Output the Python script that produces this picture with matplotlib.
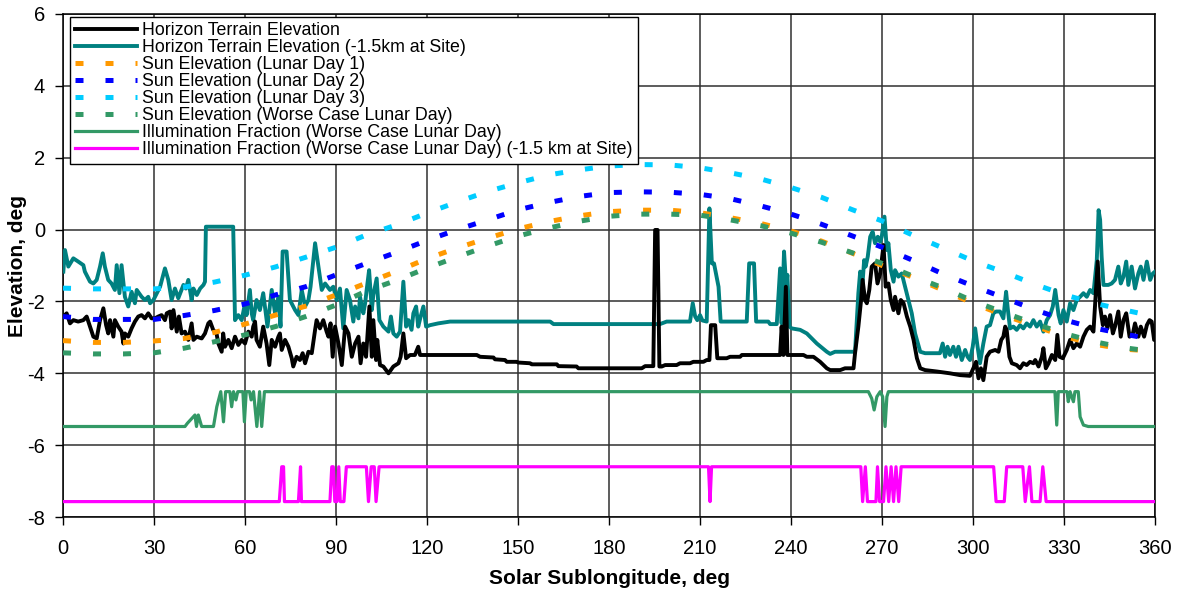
import matplotlib
matplotlib.use("Agg")
import matplotlib.pyplot as plt
import numpy as np

plt.rcParams['font.family'] = ['Liberation Sans', 'DejaVu Sans']
plt.rcParams['axes.unicode_minus'] = False

# sun elevation, read every 10 deg
sun_lon = [0, 10, 20, 30, 40, 50, 60, 70, 80, 90, 100, 110, 120, 130, 140, 150, 160, 170, 180,
           190, 200, 210, 220, 230, 240, 250, 260, 270, 280, 290, 300, 310, 320, 330, 340, 350, 360]
sun_day1 = [-3.09, -3.14, -3.14, -3.10, -3.03, -2.86, -2.63, -2.38, -2.13, -1.82, -1.49, -1.16, -0.81,
            -0.51, -0.24, 0.02, 0.22, 0.38, 0.50, 0.54, 0.54, 0.47, 0.33, 0.17, -0.04, -0.32, -0.65,
            -1.00, -1.32, -1.68, -2.05, -2.38, -2.67, -2.97, -3.19, -3.33, -3.38]
sun_day2 = [-2.42, -2.50, -2.50, -2.50, -2.39, -2.25, -2.07, -1.82, -1.59, -1.26, -0.94, -0.63, -0.30,
            0.00, 0.27, 0.55, 0.75, 0.92, 1.03, 1.05, 1.04, 0.98, 0.86, 0.66, 0.43, 0.15, -0.17,
            -0.49, -0.85, -1.23, -1.57, -1.89, -2.22, -2.51, -2.74, -2.91, -3.07]
sun_day3 = [-1.63, -1.65, -1.65, -1.65, -1.60, -1.46, -1.27, -1.04, -0.77, -0.49, -0.15, 0.13, 0.46,
            0.77, 1.06, 1.30, 1.52, 1.66, 1.77, 1.81, 1.80, 1.72, 1.58, 1.41, 1.17, 0.90, 0.56,
            0.24, -0.15, -0.51, -0.87, -1.18, -1.51, -1.81, -2.05, -2.24, -2.42]
sun_worst = [-3.43, -3.46, -3.46, -3.43, -3.30, -3.12, -2.93, -2.70, -2.42, -2.10, -1.71, -1.41, -1.07,
             -0.76, -0.46, -0.18, 0.04, 0.23, 0.37, 0.43, 0.43, 0.40, 0.27, 0.11, -0.10, -0.35, -0.64,
             -0.94, -1.29, -1.62, -1.99, -2.30, -2.61, -2.89, -3.12, -3.29, -3.40]

# horizon terrain elevation
hor_lon = [0.1, 1.2, 2.3, 3.4, 5.0, 6.7, 7.8, 8.9, 10.0, 11.1, 12.2, 13.3, 14.2, 14.9, 15.5, 16.6, 17.1,
           18.2, 19.3, 19.9, 20.4, 21.5, 22.6, 23.7, 24.8, 25.9, 27.0, 28.1, 29.2, 30.3, 31.4, 32.5,
           33.6, 34.2, 35.3, 35.8, 36.4, 37.5, 38.2, 39.1, 40.2, 41.3, 42.4, 43.0, 44.1, 45.7, 46.8,
           47.9, 48.5, 49.5, 50.6, 51.2, 52.3, 52.8, 53.4, 54.5, 55.6, 56.7, 57.8, 58.9, 60.0, 61.1,
           62.2, 62.7, 63.3, 63.8, 64.9, 66.0, 67.1, 68.0, 68.8, 69.9, 71.0, 71.5, 72.1, 73.2, 74.3,
           75.4, 75.9, 77.0, 78.1, 79.0, 79.8, 80.9, 82.0, 83.1, 83.6, 84.7, 85.8, 86.9, 87.5, 88.2,
           88.9, 89.7, 90.8, 91.9, 93.0, 94.1, 95.2, 96.3, 97.4, 98.1, 99.0, 99.9, 101.0, 101.8,
           102.3, 103.2, 103.6, 104.5, 105.6, 107.3, 108.9, 110.6, 111.3, 112.2, 113.1, 114.4,
           116.0, 117.1, 117.7, 121.0, 136.4, 137.5, 141.9, 142.4, 145.7, 146.3, 149.6, 150.1,
           154.0, 154.5, 162.8, 163.3, 169.3, 169.9, 190.8, 191.9, 194.6, 195.2, 196.0, 196.6,
           197.4, 198.5, 202.3, 203.4, 206.7, 207.8, 211.1, 212.2, 213.1, 213.6, 215.0, 215.7,
           218.8, 219.9, 223.2, 223.8, 236.4, 236.9, 237.5, 238.3, 238.8, 244.1, 245.2, 247.4,
           249.6, 251.8, 252.9, 256.2, 257.8, 260.6, 261.1, 262.2, 263.1, 263.6, 264.4, 265.0,
           265.8, 266.6, 267.7, 268.5, 269.4, 270.5, 271.2, 272.1, 272.9, 273.8, 274.3, 275.4,
           276.2, 277.1, 278.2, 279.3, 280.4, 281.5, 282.6, 284.2, 288.1, 292.4, 295.7, 299.0,
           300.1, 301.0, 301.8, 302.6, 303.4, 304.5, 305.6, 307.3, 308.4, 309.3, 310.0, 310.6,
           311.1, 312.0, 312.8, 314.4, 315.5, 316.6, 317.7, 318.8, 319.9, 320.5, 321.6, 322.7,
           323.2, 324.0, 324.9, 326.0, 327.1, 327.8, 328.5, 329.6, 330.9, 332.0, 333.1, 334.2,
           335.3, 336.4, 337.5, 338.6, 339.7, 340.2, 341.1, 341.9, 342.8, 343.5, 344.3, 345.2,
           346.1, 346.8, 347.9, 348.7, 349.6, 350.5, 351.6, 352.7, 353.4, 354.5, 355.3, 356.4,
           357.3, 358.2, 358.9, 359.7, 360.0]
hor_elev = [-2.42, -2.33, -2.61, -2.52, -2.56, -2.52, -2.42, -2.70, -2.98, -3.03, -2.52, -2.19, -2.66,
            -2.89, -2.52, -2.98, -2.52, -2.70, -2.84, -3.17, -2.89, -2.98, -2.75, -2.56, -2.42,
            -2.38, -2.47, -2.33, -2.47, -2.47, -2.42, -2.38, -2.52, -2.33, -2.28, -2.75, -2.24,
            -2.84, -2.42, -2.89, -2.84, -3.07, -2.61, -3.07, -2.98, -3.03, -2.89, -2.61, -2.56,
            -2.79, -2.89, -3.17, -3.40, -2.89, -3.26, -3.07, -3.30, -2.98, -3.21, -3.07, -3.17,
            -2.84, -2.98, -2.70, -2.56, -3.07, -3.26, -2.70, -3.17, -3.77, -3.07, -3.26, -2.98,
            -2.89, -3.35, -3.07, -3.26, -3.58, -3.81, -3.54, -3.63, -3.44, -3.72, -3.40, -3.44,
            -2.79, -2.52, -2.75, -2.52, -2.84, -2.98, -2.61,
            -3.54, -2.70, -3.17, -3.77, -2.70, -2.89, -3.54, -3.17, -2.98, -3.72, -3.17, -3.54,
            -2.14, -3.54, -2.52, -3.63, -3.07, -3.77, -3.81, -4.00, -3.81, -3.72, -3.54, -2.89,
            -3.58, -3.49, -3.49, -3.26, -3.49, -3.49, -3.49, -3.54, -3.56, -3.61, -3.63, -3.68,
            -3.68, -3.70, -3.72, -3.75, -3.75, -3.80, -3.81, -3.86, -3.86, -3.80, -3.80, -0.01,
            -0.01, -3.81, -3.81, -3.77, -3.77, -3.72, -3.72, -3.68, -3.68, -3.63, -3.63, -2.66,
            -2.66, -3.58, -3.58, -3.54, -3.54, -3.49, -3.49, -2.70, -3.49, -1.59, -3.49, -3.49,
            -3.54, -3.54, -3.68, -3.86, -3.91, -3.91, -3.86, -3.86, -3.44, -2.70, -1.96, -1.40,
            -1.96, -2.05, -1.68, -1.03, -0.94, -1.50, -1.22, -0.43, -1.59, -1.50, -1.96, -2.24,
            -1.87, -2.33, -1.96, -2.05, -2.42, -2.70, -3.07, -3.58, -3.86, -3.91, -3.95, -4.00,
            -4.05, -4.07, -3.86, -3.68, -4.14, -3.86, -4.19, -3.54, -3.40, -3.35, -3.40, -3.07,
            -2.98, -2.70, -2.79, -3.54, -3.72, -3.77, -3.86, -3.72, -3.77, -3.68, -3.72, -3.63,
            -3.81, -3.54, -3.30, -3.86, -3.72, -3.49, -3.63, -2.93, -3.54, -3.58, -3.35, -3.07,
            -3.30, -3.17, -3.26, -2.98, -2.79, -2.70, -2.84, -2.14, -0.89, -2.14, -2.66, -2.42,
            -2.75, -2.38, -2.89, -2.70, -2.28, -2.98, -2.52, -2.33, -2.98, -2.89, -2.61, -2.98,
            -2.70, -2.98, -2.66, -2.52, -2.56, -3.07, -3.07]

# horizon terrain elevation, -1.5 km at site
low_lon = [0.1, 0.65, 1.75, 3.4, 5.0, 6.7, 7.2, 8.9, 10.0, 11.1, 12.2, 13.1, 13.8, 14.9, 16.0, 17.1,
           17.7, 18.6, 19.3, 20.4, 21.5, 22.6, 23.7, 24.3, 25.9, 27.0, 28.1, 28.7, 29.8, 32.0, 33.6,
           34.7, 35.8, 36.9, 38.0, 39.7, 40.5, 41.3, 42.4, 43.0, 44.1, 45.2, 46.3, 46.8, 47.1, 56.1,
           56.7, 57.8, 58.9, 60.0, 60.5, 61.6, 62.2, 62.7, 63.8, 64.9, 66.0, 67.4, 68.8, 69.9, 71.0,
           71.7, 72.4, 73.7, 74.8, 76.5, 77.6, 78.7, 79.8, 80.9, 81.6, 83.1, 84.2, 85.3, 86.4, 88.0,
           89.1, 90.2, 91.3, 92.4, 93.5, 94.6, 95.7, 96.3, 97.4, 97.9, 99.0, 99.6, 100.1, 100.9,
           101.8, 102.3, 103.4, 104.3, 105.6, 107.3, 108.1, 108.9, 110.0, 111.1, 112.2, 113.1,
           113.9, 114.9, 115.5, 116.4, 117.1, 117.9, 118.8, 119.7, 121.0, 123.7, 127.6, 160.6,
           161.7, 196.8, 199.0, 206.7, 207.6, 208.4, 209.1, 210.0, 210.8, 212.2, 213.1, 213.9,
           214.6, 216.1, 216.8, 225.4, 226.2, 227.8, 228.5, 232.5, 233.1, 235.3, 236.4, 236.9,
           237.7, 238.4, 238.8, 239.5, 240.2, 243.0, 245.2, 248.5, 251.8, 252.9, 254.5, 261.1,
           262.2, 262.8, 263.5, 264.1, 264.6, 265.3, 266.1, 266.9, 267.7, 268.6, 269.4, 269.9,
           270.8, 271.6, 272.1, 272.9, 273.8, 274.3, 275.4, 276.5, 277.6, 278.7, 279.8, 280.9,
           282.6, 284.2, 289.1, 290.0, 290.8, 291.6, 292.4, 293.5, 294.4, 295.2, 296.3, 297.4,
           298.2, 299.0, 299.9, 300.7, 301.5, 302.3, 303.4, 304.5, 305.6, 306.7, 307.6, 308.9,
           310.0, 310.9, 311.5, 312.2, 313.3, 314.4, 315.5, 316.6, 317.7, 318.8, 319.9, 321.0,
           322.1, 323.2, 324.3, 325.4, 326.3, 327.1, 328.2, 328.9, 329.8, 330.9, 332.0, 333.1,
           334.2, 335.3, 336.4, 337.5, 338.6, 339.7, 340.8, 341.4, 341.9, 342.4, 343.0, 344.6,
           345.7, 346.8, 347.9, 348.7, 349.6, 350.5, 351.2, 352.3, 353.4, 354.5, 355.3, 356.2,
           357.3, 358.4, 359.3, 360.0]
low_elev = [-1.17, -0.57, -1.03, -0.80, -0.89, -0.99, -1.17, -1.45, -1.50, -1.40, -1.03, -0.66, -1.03,
            -1.40, -1.50, -1.68, -0.99, -1.77, -0.99, -1.87, -2.14, -1.73, -2.05, -1.68, -1.87,
            -1.96, -1.87, -2.05, -1.96, -1.59, -1.08, -1.40, -1.96, -1.64, -1.91, -1.54, -1.64,
            -1.40, -1.96, -1.64, -1.82, -1.64, -1.54, -1.45, 0.08, 0.08, -2.52, -2.38, -2.52,
            -2.05, -2.38, -1.68, -2.33, -2.52, -1.96, -2.24, -1.77, -2.70, -1.68, -2.33, -1.87,
            -2.70, -0.61, -0.61, -1.96, -2.24, -2.38, -1.68, -2.14, -1.96, -1.59, -0.38, -1.03,
            -1.68, -1.50, -1.68, -1.59, -1.96, -1.64, -2.75, -1.68, -1.96, -2.56, -2.14, -2.47,
            -1.87, -2.33, -2.05, -1.68, -1.13, -2.24, -1.82, -1.36, -2.52, -2.70, -2.84, -2.42,
            -2.89, -2.98, -2.84, -1.45, -2.70, -2.52, -2.79, -2.33, -2.14, -2.70, -2.42, -2.14,
            -2.70, -2.66, -2.61, -2.56, -2.56, -2.63, -2.63, -2.56, -2.56, -2.05, -2.42, -2.52,
            -2.38, -2.53, -2.56, 0.59, -0.94, -0.94, -1.59, -2.56, -2.56, -0.94, -0.94, -2.56,
            -2.56, -2.63, -2.63, -1.08, -2.61, -0.61, -1.59, -1.26, -2.70, -2.75, -2.79, -2.89,
            -3.17, -3.40, -3.46, -3.40, -3.40, -1.77, -1.17, -1.59, -0.85, -1.03, -0.75, -0.20,
            -0.06, -0.38, -0.20, -0.34, -0.20, 0.36, -0.57, -0.38, -1.13, -1.45, -1.13, -1.31,
            -1.22, -1.59, -1.96, -2.33, -2.89, -3.40, -3.44, -3.44, -3.17, -3.54, -3.26, -3.49,
            -3.26, -3.54, -3.26, -3.63, -3.35, -3.54, -3.63, -3.26, -2.75, -3.26, -3.72, -3.17,
            -2.70, -2.66, -2.33, -2.28, -2.28, -2.47, -1.73, -2.24, -2.75, -2.70, -2.79, -2.66,
            -2.75, -2.61, -2.70, -2.52, -2.70, -2.56, -2.84, -2.52, -2.38, -2.14, -1.68, -2.38,
            -2.61, -2.24, -2.56, -2.05, -2.24, -1.96, -1.87, -1.77, -1.87, -1.68, -1.77, -0.85,
            0.54, 0.27, -0.75, -1.54, -1.54, -1.50, -1.40, -1.03, -1.50, -1.31, -0.89, -1.54,
            -1.03, -1.64, -1.22, -1.03, -1.40, -0.89, -1.40, -1.22, -1.17]

# illumination fraction, worse case lunar day (plotted on the elevation axis)
illum_lon = [0, 40.2, 41.0, 43.5, 44.0, 44.6, 45.7, 49.6, 50.7, 52.0, 52.9, 53.6, 55.0, 55.6, 56.2,
             57.0, 57.6, 59.3, 59.8, 60.4, 61.5, 62.0, 62.8, 63.9, 64.8, 65.5, 66.4, 265.5, 266.6,
             267.4, 268.3, 269.4, 270.2, 271.0, 271.6, 272.1, 327.0, 327.6, 328.1, 331.0, 331.4,
             332.0, 333.1, 333.6, 334.7, 335.3, 336.4, 338.0, 360]
illum_val = [-5.48, -5.48, -5.39, -5.16, -5.48, -5.16, -5.48, -5.48, -4.93, -4.51, -5.35, -4.51, -4.51,
             -4.93, -4.51, -4.74, -4.51, -4.51, -5.35, -4.51, -4.51, -4.74, -4.51, -5.48, -4.51,
             -5.48, -4.51, -4.51, -4.70, -5.02, -4.65, -4.51, -4.65, -5.48, -4.65, -4.51, -4.51,
             -5.44, -4.51, -4.51, -4.79, -4.51, -4.79, -4.51, -4.51, -5.21, -5.44, -5.48, -5.48]

# illumination fraction, -1.5 km at site
illum_low_lon = [0, 71.3, 72.1, 72.7, 73.0, 77.6, 78.3, 78.6, 88.0, 88.6, 89.1, 89.6, 90.3, 90.9,
                 91.4, 92.6, 93.4, 100.0, 100.7, 101.6, 102.6, 103.2, 104.2, 212.8, 213.3, 213.8,
                 263.0, 263.6, 264.5, 265.2, 268.0, 268.5, 269.2, 270.5, 271.3, 272.2, 273.0, 273.8,
                 274.6, 275.5, 276.3, 306.8, 307.6, 310.3, 311.1, 316.4, 317.2, 318.6, 319.4, 322.1,
                 323.0, 324.1, 360]
illum_low_val = [-7.57, -7.57, -6.60, -6.60, -7.57, -7.57, -6.60, -7.57, -7.57, -6.60, -6.60, -7.57,
                 -7.57, -6.60, -7.57, -7.57, -6.60, -6.60, -7.57, -6.60, -6.60, -7.57, -6.60, -6.60,
                 -7.57, -6.60, -6.60, -7.57, -6.60, -7.57, -7.57, -6.60, -7.57, -7.57, -6.60, -7.57,
                 -6.60, -7.57, -6.60, -7.57, -6.60, -6.60, -7.57, -7.57, -6.60, -6.60, -7.57, -6.60,
                 -7.57, -7.57, -6.60, -7.57, -7.57]

fig = plt.figure(figsize=(11.78, 5.95), dpi=100)
ax = fig.add_axes([0.0535, 0.131, 0.927, 0.8455])

h_black, = ax.plot(hor_lon, hor_elev, color='black', lw=2.8, zorder=4,
                   label='Horizon Terrain Elevation')
h_teal, = ax.plot(low_lon, low_elev, color='#008080', lw=2.8, zorder=3,
                  label='Horizon Terrain Elevation (-1.5km at Site)')
dash = (0, (1.6, 4.4))
h1, = ax.plot(sun_lon, sun_day1, color='#FF9900', lw=3.6, ls=dash, zorder=5,
              label='Sun Elevation (Lunar Day 1)')
h2, = ax.plot(sun_lon, sun_day2, color='#0000FF', lw=3.6, ls=dash, zorder=5,
              label='Sun Elevation (Lunar Day 2)')
h3, = ax.plot(sun_lon, sun_day3, color='#00CCFF', lw=3.6, ls=dash, zorder=5,
              label='Sun Elevation (Lunar Day 3)')
h4, = ax.plot(sun_lon, sun_worst, color='#339966', lw=3.6, ls=dash, zorder=5,
              label='Sun Elevation (Worse Case Lunar Day)')
h5, = ax.plot(illum_lon, illum_val, color='#339966', lw=2.3, zorder=4,
              label='Illumination Fraction (Worse Case Lunar Day)')
h6, = ax.plot(illum_low_lon, illum_low_val, color='#FF00FF', lw=2.3, zorder=4,
              label='Illumination Fraction (Worse Case Lunar Day) (-1.5 km at Site)')

ax.set_xlim(0, 360)
ax.set_ylim(-8, 6)
ax.set_xticks(np.arange(0, 361, 30))
ax.set_yticks(np.arange(-8, 7, 2))
ax.grid(True, color='#303030', lw=1.1)
ax.set_axisbelow(True)
ax.tick_params(axis='both', labelsize=14.5, direction='out', length=6, width=1, color='black')
ax.tick_params(axis='x', pad=10)
ax.tick_params(axis='y', pad=7)
for s in ax.spines.values():
    s.set_color('black')
    s.set_linewidth(1.1)

ax.set_xlabel('Solar Sublongitude, deg', fontsize=15, fontweight='bold', labelpad=8)
ax.set_ylabel('Elevation, deg', fontsize=15, fontweight='bold')
ax.yaxis.set_label_coords(-0.033, 0.5)

leg = ax.legend(handles=[h_black, h_teal, h1, h2, h3, h4, h5, h6], loc='upper left',
                bbox_to_anchor=(0.006, 0.994), borderaxespad=0, fontsize=12.8,
                frameon=True, fancybox=False, framealpha=1, edgecolor='black',
                handlelength=3.5, handletextpad=0.3, labelspacing=0.0, borderpad=0.3)
leg.get_frame().set_linewidth(1.0)
leg.set_zorder(10)

fig.savefig('out.png', dpi=100)
